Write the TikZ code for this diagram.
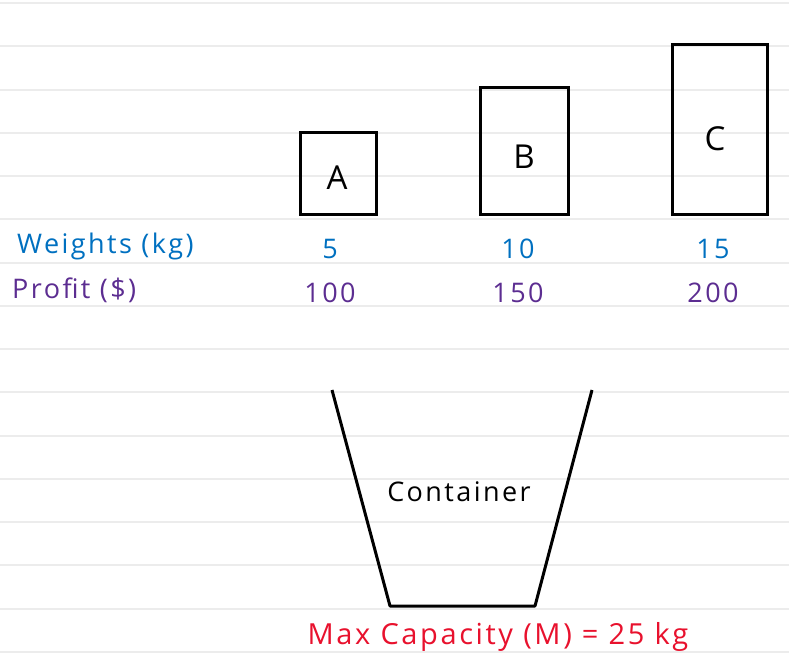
\documentclass[tikz,border=0pt]{standalone}
\usepackage{fontspec}
\setmainfont[LetterSpace=9]{Open Sans}
\usetikzlibrary{positioning}
\definecolor{ksBlue}{RGB}{0,112,192}
\definecolor{ksPurple}{RGB}{92,45,145}
\definecolor{ksRed}{RGB}{232,17,45}
\definecolor{ksRule}{RGB}{236,236,236}

\begin{document}
\begin{tikzpicture}[
    x=1pt, y=-1pt, font=\fontsize{27}{32}\selectfont,
    rule/.style={draw=ksRule, line width=2pt},
    item/.style={draw, line width=3pt, anchor=south, inner sep=0pt},
    tag/.style={font=\fontsize{33}{38}\selectfont, inner sep=0pt},
    wt/.style={text=ksBlue, inner sep=0pt},
    pf/.style={text=ksPurple, inner sep=0pt}
]
\useasboundingbox (0,0) rectangle (789,670);
% Ruled paper
\foreach \k in {0,...,15} {
   \draw[rule] (0, 3+43.25*\k) -- (789, 3+43.25*\k);
}

% Items
\node[item, minimum width=76pt, minimum height=82pt] (boxA) at (338,216) {};
\node[item, minimum width=88pt, minimum height=127pt] (boxB) at (524,216) {};
\node[item, minimum width=95pt, minimum height=170pt] (boxC) at (719.5,216) {};
\node[tag] (tA) at (337,178) {A};
\node[tag] (tB) at (524,157) {B};
\node[tag] (tC) at (715,139) {C};

% Row headers
\node[wt, anchor=west] (wLabel) at (17,246) {Weights (kg)};
\node[pf, anchor=west] (pLabel) at (12,290) {Profit (\$)};

% Weights and profits
\foreach \n/\x/\w/\p in {A/330/5/100, B/518/10/150, C/713/15/200} {
   \node[wt] (w\n) at (\x,249) {\w};
   \node[pf] (p\n) at (\x,293) {\p};
}

% Container
\coordinate (tl) at (332,390);
\coordinate (bl) at (390,606);
\coordinate (br) at (535,606);
\coordinate (tr) at (592,390);
\draw[line width=3pt, line join=round] (tl) -- (bl) -- (br) -- (tr);
\node (cont) at (459,492) {Container};
\node[text=ksRed, font=\fontsize{29}{34}\selectfont] (cap) at (498,637)
     {Max Capacity (M) = 25 kg};
\end{tikzpicture}
\end{document}
